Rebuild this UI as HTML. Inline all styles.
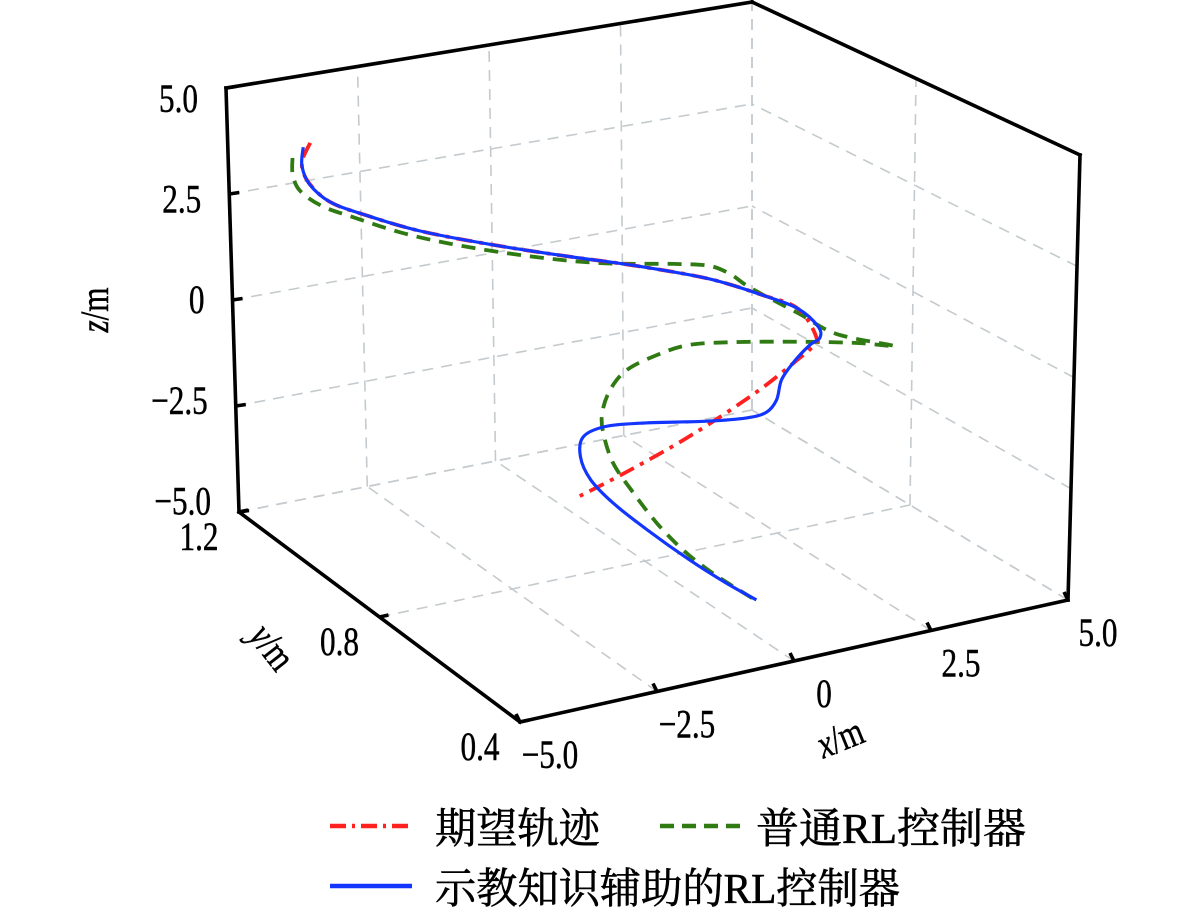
<!DOCTYPE html>
<html><head><meta charset="utf-8"><style>
html,body{margin:0;padding:0;background:#fff;}
svg{display:block;}
</style></head><body>
<svg id="chart" width="1181" height="917" viewBox="0 0 1181 917" xmlns="http://www.w3.org/2000/svg">
<g id="grid"></g>
<g id="axes"></g>
<g id="series"></g>
<g id="labels"></g>
<g id="legend">
  <line x1="330" y1="826" x2="412" y2="826" stroke="#ff2020" stroke-width="4.5" stroke-dasharray="16,6,3,6"/>
  <text x="435" y="843" font-family="'Liberation Serif','Noto Serif CJK SC',serif" font-size="42" textLength="165" lengthAdjust="spacingAndGlyphs" stroke="#000" stroke-width="0.6">期望轨迹</text>
  <line x1="660" y1="826" x2="740" y2="826" stroke="#2f7a12" stroke-width="4.5" stroke-dasharray="14,8"/>
  <text x="756" y="843" font-family="'Liberation Serif','Noto Serif CJK SC',serif" font-size="42" textLength="270" lengthAdjust="spacingAndGlyphs" stroke="#000" stroke-width="0.6">普通RL控制器</text>
  <line x1="330" y1="886" x2="412" y2="886" stroke="#1236ff" stroke-width="4.5"/>
  <text x="435" y="903" font-family="'Liberation Serif','Noto Serif CJK SC',serif" font-size="42" textLength="465" lengthAdjust="spacingAndGlyphs" stroke="#000" stroke-width="0.6">示教知识辅助的RL控制器</text>
</g>
</svg>
<script>
// ---- data ----
const xTicks = [-5, -2.5, 0, 2.5, 5];
const xTickLabels = ["\u22125.0", "\u22122.5", "0", "2.5", "5.0"];
const yTicks = [0.4, 0.8, 1.2];
const yTickLabels = ["0.4", "0.8", "1.2"];
const zTicks = [-5, -2.5, 0, 2.5, 5];
const zTickLabels = ["\u22125.0", "\u22122.5", "0", "2.5", "5.0"];

const redX = [-6.12,-6.28,-6.17,-5.78,-5.13,-4.13,-2.80,-1.46,-0.14,1.20,2.19,2.86,3.21,3.08,2.90,2.09,0.88,-0.27,-1.29];
const redY = [0.8,0.8,0.8,0.8,0.8,0.8,0.8,0.8,0.8,0.8,0.8,0.8,0.8,0.8,0.8,0.8,0.8,0.8,0.8];
const redZ = [5.94,5.52,5.07,4.54,4.10,3.52,2.91,2.35,1.82,1.21,0.60,0.12,-0.65,-0.89,-1.03,-1.63,-2.32,-2.84,-3.23];

const greenX = [-6.45,-6.45,-6.32,-5.93,-5.32,-4.46,-3.45,-2.13,-0.81,0.53,1.20,1.59,1.98,2.86,3.58,4.67,4.01,3.03,1.78,0.85,0.23,-0.33,-0.64,-0.79,-0.77,-0.59,-0.21,0.23,0.72,1.28,2.09];
const greenY = [0.8,0.8,0.8,0.8,0.8,0.8,0.8,0.8,0.8,0.8,0.8,0.8,0.8,0.8,0.8,0.8,0.8,0.8,0.8,0.8,0.8,0.8,0.8,0.8,0.8,0.8,0.8,0.8,0.8,0.8,0.8];
const greenZ = [5.67,5.29,4.90,4.48,4.08,3.55,3.05,2.50,2.04,1.71,1.51,1.23,0.81,0.02,-0.64,-1.19,-0.96,-0.69,-0.39,-0.23,-0.32,-0.53,-0.91,-1.40,-1.87,-2.60,-3.38,-4.19,-4.93,-5.61,-6.45];

const blueX = [-6.25,-6.28,-6.15,-5.78,-5.13,-4.13,-2.80,-1.46,-0.14,1.20,2.19,2.86,3.24,3.27,3.08,2.77,2.56,2.47,2.28,1.91,1.16,-0.08,-0.77,-1.15,-1.20,-1.01,-0.59,0.05,0.85,1.54,2.11];
const blueY = [0.8,0.8,0.8,0.8,0.8,0.8,0.8,0.8,0.8,0.8,0.8,0.8,0.8,0.8,0.8,0.8,0.8,0.8,0.8,0.8,0.8,0.8,0.8,0.8,0.8,0.8,0.8,0.8,0.8,0.8,0.8];
const blueZ = [5.87,5.46,5.02,4.54,4.10,3.52,2.91,2.35,1.82,1.21,0.60,0.12,-0.39,-0.66,-0.78,-1.12,-1.46,-1.90,-2.14,-2.18,-2.07,-1.81,-1.73,-1.87,-2.31,-2.88,-3.52,-4.30,-5.20,-5.91,-6.45];

// ---- projection (box corners on screen) ----
const NS = "http://www.w3.org/2000/svg";
const K = {
  c000:[520,722], c100:[1068,600], c001:[518,260], c101:[1080,155],
  c010:[239,512], c110:[752,410], c011:[226,88], c111:[752,2]
};
function lerp(a,b,t){return [a[0]+(b[0]-a[0])*t, a[1]+(b[1]-a[1])*t];}
function proj(x,y,z){
  const u=(x+5)/10, t=(y-0.4)/0.8, v=(z+5)/10;
  const f0=lerp(lerp(K.c000,K.c100,u), lerp(K.c001,K.c101,u), v);
  const f1=lerp(lerp(K.c010,K.c110,u), lerp(K.c011,K.c111,u), v);
  return lerp(f0,f1,t);
}
function mk(tag, attrs, parent){
  const e=document.createElementNS(NS,tag);
  for(const k in attrs) e.setAttribute(k, attrs[k]);
  parent.appendChild(e);
  return e;
}
const grid=document.getElementById('grid');
const axes=document.getElementById('axes');
const series=document.getElementById('series');
const labels=document.getElementById('labels');
const gstyle={stroke:'#c4cacd','stroke-width':1.6,'stroke-dasharray':'11,8',fill:'none'};
function gline(p,q){
  const e=mk('line',Object.assign({x1:p[0],y1:p[1],x2:q[0],y2:q[1]},gstyle),grid);
  
  
}
xTicks.forEach(x=>gline(proj(x,1.2,-5),proj(x,1.2,5)));
zTicks.forEach(z=>gline(proj(-5,1.2,z),proj(5,1.2,z)));
yTicks.forEach(y=>gline(proj(5,y,-5),proj(5,y,5)));
zTicks.forEach(z=>gline(proj(5,0.4,z),proj(5,1.2,z)));
xTicks.forEach(x=>gline(proj(x,0.4,-5),proj(x,1.2,-5)));
yTicks.forEach(y=>gline(proj(-5,y,-5),proj(5,y,-5)));

function aline(p,q,name){
  const e=mk('line',{x1:p[0],y1:p[1],x2:q[0],y2:q[1],stroke:'#000','stroke-width':3.6,'stroke-linecap':'square'},axes);
  
  
}
aline(proj(-5,1.2,-5),proj(-5,1.2,5),'z-axis-line');
aline(proj(-5,1.2,5),proj(5,1.2,5),'top-back-edge');
aline(proj(5,1.2,5),proj(5,0.4,5),'top-right-edge');
aline(proj(5,0.4,5),proj(5,0.4,-5),'right-edge');
aline(proj(-5,1.2,-5),proj(-5,0.4,-5),'y-axis-line');
aline(proj(-5,0.4,-5),proj(5,0.4,-5),'x-axis-line');

const fam="'Liberation Serif','DejaVu Serif',serif";
function label(x,y,txt,anchor,name,rot,italic){
  const g=mk('g',{transform:`translate(${x},${y}) rotate(${rot||0}) scale(0.78,1)`},labels);
  
  
  const t=mk('text',{x:0,y:0,'text-anchor':anchor,'font-family':fam,'font-size':40,fill:'#000',stroke:'#000','stroke-width':0.5},g);
  if(italic){
    const a=mk('tspan',{'font-style':'italic'},t); a.textContent=italic;
    const b=mk('tspan',{},t); b.textContent=txt;
  } else t.textContent=txt;
  return g;
}
zTicks.forEach((z,i)=>{
  const p=proj(-5,1.2,z);
  const e=mk('line',{x1:p[0],y1:p[1],x2:p[0]+10,y2:p[1]-1.5,stroke:'#000','stroke-width':3.6},axes);
  
  
  const ly=303+(p[1]-303)*0.95;
  label(p[0]-28,ly+13,zTickLabels[i],'end','z-tick-label');
});
yTicks.forEach((y,i)=>{
  const p=proj(-5,y,-5);
  const e=mk('line',{x1:p[0],y1:p[1],x2:p[0]+9,y2:p[1]-2,stroke:'#000','stroke-width':3.6},axes);
  
  
  label(p[0]-40,p[1]+38,yTickLabels[i],'middle','y-tick-label');
});
xTicks.forEach((x,i)=>{
  const p=proj(x,0.4,-5);
  const e=mk('line',{x1:p[0],y1:p[1],x2:p[0]-4,y2:p[1]-8,stroke:'#000','stroke-width':3.6},axes);
  
  
  label(p[0]+30,p[1]+46,xTickLabels[i],'middle','x-tick-label');
});
label(108,310,'/m','middle','z-axis-title',-90,'z');
label(262,655,'/m','middle','y-axis-title',52,'y');
label(845,750,'/m','middle','x-axis-title',-22,'x');

function pathFrom(X,Y,Z){
  const P=X.map((x,i)=>proj(x,Y[i],Z[i]));
  let d=`M${P[0][0].toFixed(1)},${P[0][1].toFixed(1)}`;
  for(let i=0;i<P.length-1;i++){
    const p0=P[Math.max(0,i-1)],p1=P[i],p2=P[i+1],p3=P[Math.min(P.length-1,i+2)];
    const c1=[p1[0]+(p2[0]-p0[0])/6,p1[1]+(p2[1]-p0[1])/6];
    const c2=[p2[0]-(p3[0]-p1[0])/6,p2[1]-(p3[1]-p1[1])/6];
    d+=` C${c1[0].toFixed(1)},${c1[1].toFixed(1)} ${c2[0].toFixed(1)},${c2[1].toFixed(1)} ${p2[0].toFixed(1)},${p2[1].toFixed(1)}`;
  }
  return d;
}
const gp=mk('path',{d:pathFrom(greenX,greenY,greenZ),stroke:'#2f7a12','stroke-width':3.8,fill:'none','stroke-dasharray':'14,9'},series);


const rp=mk('path',{d:pathFrom(redX,redY,redZ),stroke:'#ff2020','stroke-width':3.8,fill:'none','stroke-dasharray':'16,7,4,7'},series);


const bp=mk('path',{d:pathFrom(blueX,blueY,blueZ),stroke:'#1236ff','stroke-width':3.2,fill:'none'},series);


</script>
</body></html>
